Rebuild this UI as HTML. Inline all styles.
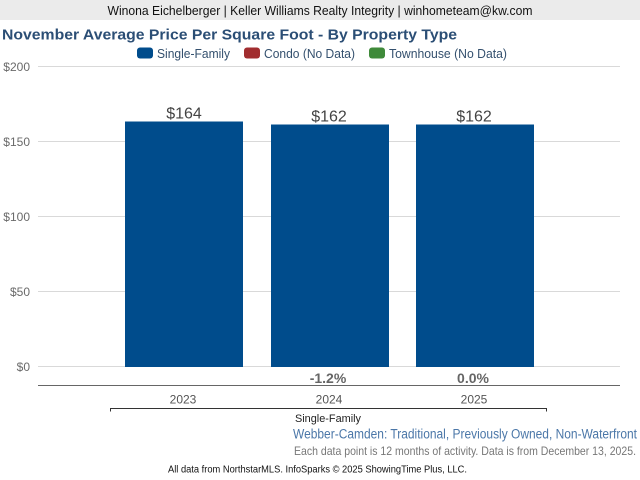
<!DOCTYPE html>
<html><head><meta charset="utf-8"><style>
html,body{margin:0;padding:0;background:#fff;}
svg{display:block;font-family:"Liberation Sans",Arial,sans-serif;}
</style></head><body>
<svg width="640" height="480" viewBox="0 0 640 480" xmlns="http://www.w3.org/2000/svg">
<rect x="0" y="0" width="640" height="480" fill="#fff"/>
<rect x="0" y="0" width="640" height="20" fill="#ebebeb"/>
<text x="320" y="15" font-size="13" fill="#111" text-anchor="middle" textLength="425" lengthAdjust="spacingAndGlyphs">Winona Eichelberger | Keller Williams Realty Integrity | winhometeam@kw.com</text>
<text x="2" y="39.5" font-size="14.5" font-weight="bold" fill="#2b4e75" textLength="455" lengthAdjust="spacingAndGlyphs">November Average Price Per Square Foot - By Property Type</text>
<rect x="137" y="47.5" width="16" height="11" rx="3" fill="#004c8c"/>
<text x="157" y="58" font-size="13" fill="#34506e" textLength="73" lengthAdjust="spacingAndGlyphs">Single-Family</text>
<rect x="244" y="47.5" width="16" height="11" rx="3" fill="#a12d2f"/>
<text x="264" y="58" font-size="13" fill="#34506e" textLength="91" lengthAdjust="spacingAndGlyphs">Condo (No Data)</text>
<rect x="369" y="47.5" width="16" height="11" rx="3" fill="#3f8a3a"/>
<text x="389" y="58" font-size="13" fill="#34506e" textLength="118" lengthAdjust="spacingAndGlyphs">Townhouse (No Data)</text>
<g stroke="#d9d9d9" stroke-width="1">
<line x1="38" y1="66.5" x2="620" y2="66.5"/>
<line x1="38" y1="141.5" x2="620" y2="141.5"/>
<line x1="38" y1="216.5" x2="620" y2="216.5"/>
<line x1="38" y1="291.5" x2="620" y2="291.5"/>
<line x1="38" y1="366.5" x2="620" y2="366.5"/>
</g>
<g font-size="12" fill="#6a6a6a" text-anchor="end">
<text x="30" y="71">$200</text>
<text x="30" y="146">$150</text>
<text x="30" y="221">$100</text>
<text x="30" y="296">$50</text>
<text x="30" y="371">$0</text>
</g>
<rect x="125" y="121.5" width="118" height="245.5" fill="#004c8c"/>
<rect x="271" y="124.5" width="118" height="242.5" fill="#004c8c"/>
<rect x="416" y="124.5" width="118" height="242.5" fill="#004c8c"/>
<g font-size="16" fill="#444" text-anchor="middle">
<text x="184" y="118.5">$164</text>
<text x="329" y="121.5">$162</text>
<text x="474" y="121.5">$162</text>
</g>
<g font-size="14" font-weight="bold" fill="#666" text-anchor="middle">
<text x="328" y="383">-1.2%</text>
<text x="473" y="383">0.0%</text>
</g>
<line x1="38" y1="385.5" x2="620" y2="385.5" stroke="#666" stroke-width="1"/>
<g font-size="12" fill="#555" text-anchor="middle">
<text x="183" y="403.5">2023</text>
<text x="329" y="403.5">2024</text>
<text x="474" y="403.5">2025</text>
</g>
<path d="M110.5 411.5 V408.5 H546.5 V411.5" fill="none" stroke="#333" stroke-width="1"/>
<text x="328" y="422" font-size="11" fill="#222" text-anchor="middle" textLength="66" lengthAdjust="spacingAndGlyphs">Single-Family</text>
<text x="293" y="438.5" font-size="13.5" fill="#4b77a8" textLength="344" lengthAdjust="spacingAndGlyphs">Webber-Camden: Traditional, Previously Owned, Non-Waterfront</text>
<text x="294" y="455" font-size="12" fill="#777" textLength="342" lengthAdjust="spacingAndGlyphs">Each data point is 12 months of activity. Data is from December 13, 2025.</text>
<text x="168" y="472.5" font-size="10" fill="#111" textLength="299" lengthAdjust="spacingAndGlyphs">All data from NorthstarMLS. InfoSparks © 2025 ShowingTime Plus, LLC.</text>
</svg>
</body></html>
